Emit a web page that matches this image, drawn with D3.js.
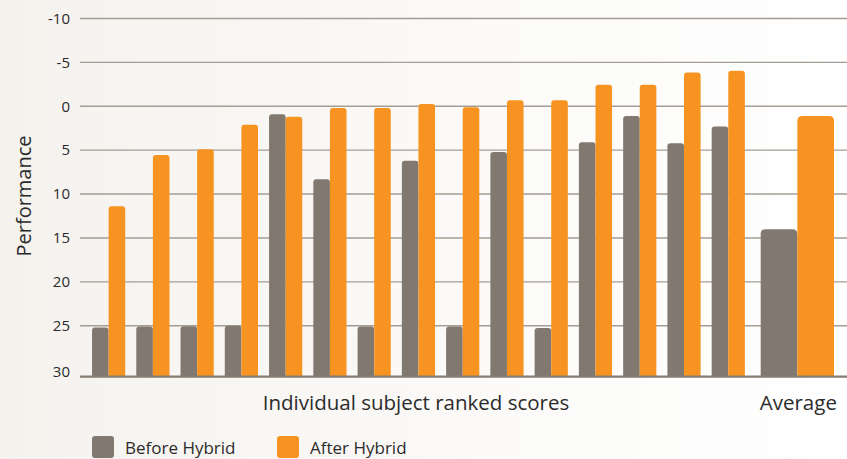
<!DOCTYPE html>
<html>
<head>
<meta charset="utf-8">
<script src="https://cdn.jsdelivr.net/npm/d3@7"></script>
<style>
  body { margin: 0; background: #fff; }
  svg text { font-family: "Open Sans", "Noto Sans", sans-serif; fill: #2b2b2b; }
</style>
</head>
<body>
<svg id="chart" width="847" height="459"></svg>
<script>
// Chart data
const SUBJECTS = d3.range(1, 16).map(String);
const BEFORE = [25.2, 25.1, 25.05, 25.0, 0.9, 8.3, 25.1, 6.2, 25.1, 5.2, 25.25, 4.1, 1.1, 4.2, 2.3];
const AFTER = [11.4, 5.55, 4.9, 2.1, 1.2, 0.2, 0.2, -0.25, 0.1, -0.7, -0.7, -2.45, -2.45, -3.85, -4.05];
const AVG_BEFORE = 14.0;
const AVG_AFTER = 1.1;
const Y_TICKS = [-10, -5, 0, 5, 10, 15, 20, 25, 30];
const SERIES = ['Before Hybrid', 'After Hybrid'];
const COLORS = ['#81786f', '#f79421'];

const W = 847, H = 459;
const svg = d3.select('#chart');

// soft background fade, left side slightly warm
const defs = svg.append('defs');
const grad = defs.append('linearGradient').attr('id', 'bg').attr('x1', 0).attr('x2', 1);
grad.append('stop').attr('offset', 0).attr('stop-color', '#f5f2ee');
grad.append('stop').attr('offset', 0.55).attr('stop-color', '#fbfaf8');
grad.append('stop').attr('offset', 1).attr('stop-color', '#ffffff');
svg.append('rect').attr('width', W).attr('height', H).attr('fill', 'url(#bg)');

// scales
const y = d3.scaleLinear().domain([-10, 30]).range([18.5, 369.6]);
const BASE = 30.8;  // baseline sits a little under the 30 gridline
const x = d3.scaleBand().domain(SUBJECTS).range([86.5, 750.4]).paddingInner(0.25).paddingOuter(0.125);
const xAvg = d3.scaleBand().domain(['Average']).range([760.7, 834]);
const xPair = d3.scaleBand().domain([0, 1]).range([0, x.bandwidth()]);
const xPairAvg = d3.scaleBand().domain([0, 1]).range([0, xAvg.bandwidth()]);

// gridlines + tick labels
const PLOT_LEFT = 80;
svg.append('g')
  .selectAll('line')
  .data(Y_TICKS.filter(d => d < 30))
  .enter()
  .append('line')
  .attr('x1', PLOT_LEFT)
  .attr('x2', W)
  .attr('y1', d => y(d))
  .attr('y2', d => y(d))
  .attr('stroke', '#a59d95')
  .attr('stroke-width', 1.4);

svg.append('g')
  .selectAll('text')
  .data(Y_TICKS)
  .enter()
  .append('text')
  .attr('x', 70)
  .attr('y', d => d === 30 ? y(d) + 2 : y(d))
  .attr('dy', '0.35em')
  .attr('text-anchor', 'end')
  .attr('font-size', 15)
  .text(d => d);

// rounded-top bar path
function topRounded(x0, y0, w, yb, r) {
  r = Math.min(r, w / 2, (yb - y0));
  return `M${x0},${yb}V${y0 + r}Q${x0},${y0} ${x0 + r},${y0}H${x0 + w - r}Q${x0 + w},${y0} ${x0 + w},${y0 + r}V${yb}Z`;
}

const yb = y(BASE);
const bars = svg.append('g');
SUBJECTS.forEach((s, i) => {
  [BEFORE[i], AFTER[i]].forEach((v, k) => {
    bars.append('path')
      .attr('d', topRounded(x(s) + xPair(k), y(v), xPair.bandwidth(), yb, 3))
      .attr('fill', COLORS[k]);
  });
});
[AVG_BEFORE, AVG_AFTER].forEach((v, k) => {
  bars.append('path')
    .attr('d', topRounded(xAvg('Average') + xPairAvg(k), y(v), xPairAvg.bandwidth(), yb, 5))
    .attr('fill', COLORS[k]);
});

// x baseline
svg.append('line')
  .attr('x1', PLOT_LEFT)
  .attr('x2', W)
  .attr('y1', yb)
  .attr('y2', yb)
  .attr('stroke', '#857c74')
  .attr('stroke-width', 2.2);

// axis titles
svg.append('text')
  .attr('transform', 'translate(31,196) rotate(-90)')
  .attr('text-anchor', 'middle')
  .attr('font-size', 20)
  .text('Performance');

svg.append('text')
  .attr('x', 416)
  .attr('y', 410)
  .attr('text-anchor', 'middle')
  .attr('font-size', 20.5)
  .text('Individual subject ranked scores');

svg.append('text')
  .attr('x', xAvg('Average') + xAvg.bandwidth() / 2 + 1)
  .attr('y', 410)
  .attr('text-anchor', 'middle')
  .attr('font-size', 20.5)
  .text('Average');

// legend
const legendX = [92, 277];
const legend = svg.append('g');
SERIES.forEach((name, i) => {
  legend.append('rect')
    .attr('x', legendX[i])
    .attr('y', 436)
    .attr('width', 22)
    .attr('height', 22)
    .attr('rx', 3)
    .attr('fill', COLORS[i]);
  legend.append('text')
    .attr('x', legendX[i] + 33)
    .attr('y', 454)
    .attr('font-size', 17)
    .text(name);
});
</script>
</body>
</html>
